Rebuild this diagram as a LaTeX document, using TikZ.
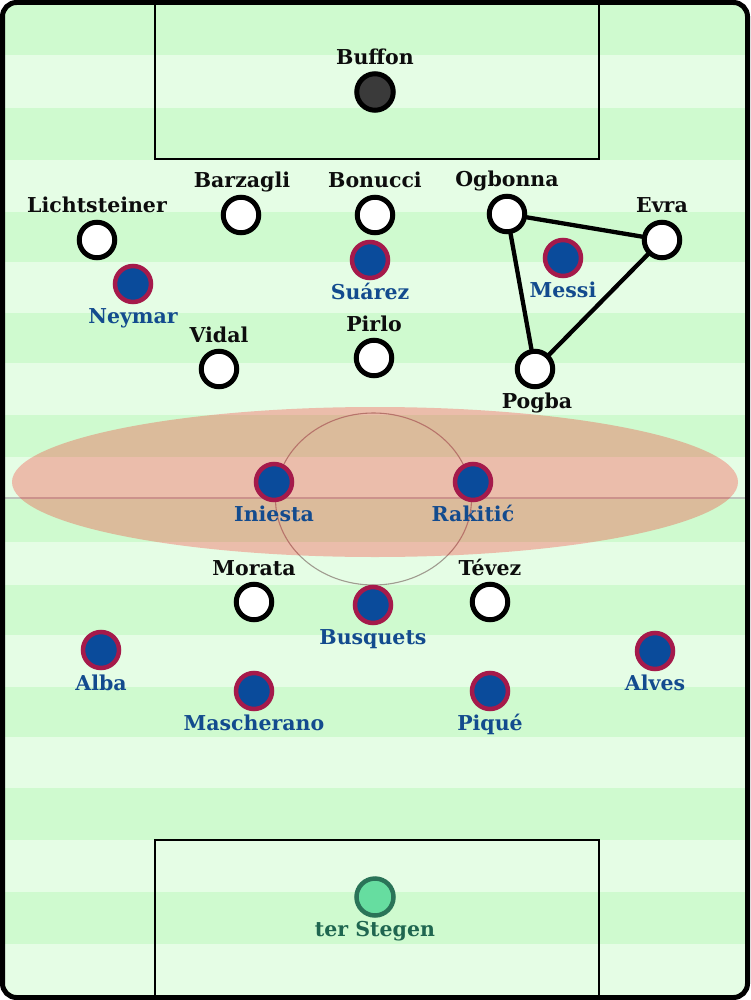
\documentclass[tikz,border=0pt]{standalone}
\usepackage{fontspec}
\setmainfont{DejaVu Serif}
\usetikzlibrary{backgrounds}
\pgfdeclarelayer{links}
\pgfsetlayers{background,links,main}
\definecolor{stripeA}{HTML}{CFFACF}
\definecolor{stripeB}{HTML}{E5FDE5}
\definecolor{barcafill}{HTML}{0A4B9B}
\definecolor{barcaring}{HTML}{A51A4B}
\definecolor{barcatext}{HTML}{134B8E}
\definecolor{gkfill}{HTML}{66DDA0}
\definecolor{gkring}{HTML}{2A7458}
\definecolor{gktext}{HTML}{1F6650}
\definecolor{keeperfill}{HTML}{3A3A3A}
\definecolor{markline}{HTML}{BCC4BC}
\definecolor{circline}{HTML}{A09C90}
\begin{document}
\begin{tikzpicture}[x=1pt,y=-1pt,
  juve/.style={circle,draw=black,line width=5pt,fill=white,minimum size=35.5pt,inner sep=0pt},
  barca/.style={circle,draw=barcaring,line width=4.5pt,fill=barcafill,minimum size=36pt,inner sep=0pt},
  keeper/.style={circle,draw=black,line width=5pt,fill=keeperfill,minimum size=36.5pt,inner sep=0pt},
  gk/.style={circle,draw=gkring,line width=4.5pt,fill=gkfill,minimum size=37pt,inner sep=0pt},
  lbl/.style={font=\bfseries\fontsize{20.5}{20.5}\selectfont,inner sep=0pt,anchor=base},
  jlbl/.style={lbl,text=black!95},
  blbl/.style={lbl,text=barcatext},
  glbl/.style={lbl,text=gktext},
  tri/.style={line width=4.3pt,black},
  stripe/.style={fill=stripeA}
]
\useasboundingbox (0,0) rectangle (750,1000);
\begin{scope}[on background layer]
% pitch stripes
\begin{scope}
\clip[rounded corners=14pt] (2.5,2.5) rectangle (747.5,997.5);
\fill[stripeB] (0,0) rectangle (750,1000);
\foreach \a/\b in {3/55,108/160,212/262,313/363,415/457,498/542,585/635,687/737,788/840,892/944}
  \fill[stripe] (0,\a) rectangle (750,\b);
\end{scope}
% markings
\draw[markline,line width=1.2pt] (3,498) -- (747,498);
\draw[circline,line width=1.1pt] (373.5,499) ellipse [x radius=98, y radius=86];
\draw[black,line width=1.5pt] (155,3) rectangle (599,159);
\draw[black,line width=1.5pt] (155,840) rectangle (599,997);
% pressing zone
\fill[red,opacity=0.25] (375,482) ellipse [x radius=363, y radius=75];
% border
\draw[black,line width=5pt,rounded corners=14pt] (2.5,2.5) rectangle (747.5,997.5);
\end{scope}

% Juventus
\node[keeper] (buffon) at (375,92) {};
\node[jlbl] at (375,65) {Buffon};
\node[juve] (barzagli) at (241,215) {};
\node[jlbl] at (242,188) {Barzagli};
\node[juve] (bonucci) at (375,215) {};
\node[jlbl] at (375,188) {Bonucci};
\node[juve] (ogbonna) at (507,214) {};
\node[jlbl] at (507,187) {Ogbonna};
\node[juve] (licht) at (97,240) {};
\node[jlbl] at (97,213) {Lichtsteiner};
\node[juve] (evra) at (662,240) {};
\node[jlbl] at (662,213) {Evra};
\node[juve] (vidal) at (219,369) {};
\node[jlbl] at (219,342) {Vidal};
\node[juve] (pirlo) at (374,358) {};
\node[jlbl] at (374,331) {Pirlo};
\node[juve] (pogba) at (535,369) {};
\node[jlbl] at (537,408) {Pogba};
\node[juve] (morata) at (254,602) {};
\node[jlbl] at (254,575) {Morata};
\node[juve] (tevez) at (490,602) {};
\node[jlbl] at (490,575) {Tévez};

% Barcelona
\node[barca] (suarez) at (370,260) {};
\node[blbl] at (370,299) {Suárez};
\node[barca] (messi) at (563,258) {};
\node[blbl] at (563,297) {Messi};
\node[barca] (neymar) at (133,284) {};
\node[blbl] at (133,323) {Neymar};
\node[barca] (iniesta) at (274,482) {};
\node[blbl] at (274,521) {Iniesta};
\node[barca] (rakitic) at (473,482) {};
\node[blbl] at (473,521) {Rakitić};
\node[barca] (busquets) at (373,605) {};
\node[blbl] at (373,644) {Busquets};
\node[barca] (alba) at (101,650) {};
\node[blbl] at (101,690) {Alba};
\node[barca] (alves) at (655,651) {};
\node[blbl] at (655,690) {Alves};
\node[barca] (masch) at (254,691) {};
\node[blbl] at (254,730) {Mascherano};
\node[barca] (pique) at (490,691) {};
\node[blbl] at (490,730) {Piqué};
\node[gk] (stegen) at (375,897) {};
\node[glbl] at (375,936) {ter Stegen};

% triangle
\begin{pgfonlayer}{links}
\draw[tri] (ogbonna.center) -- (evra.center) -- (pogba.center) -- cycle;
\end{pgfonlayer}
\end{tikzpicture}
\end{document}
